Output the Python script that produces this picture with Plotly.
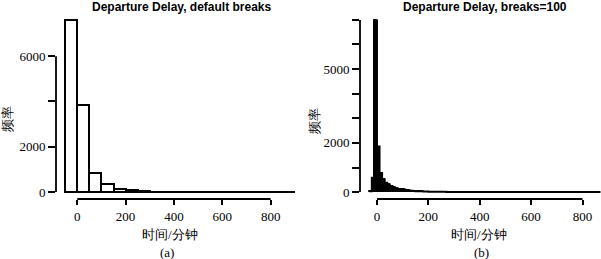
import plotly.graph_objects as go

# ---------------- data ----------------
breaks_a = list(range(-50, 901, 50))
counts_a = [7600, 3840, 860, 370, 150, 80, 45, 25, 18, 12, 10, 8, 6, 5, 4, 3, 3, 2, 2]

breaks_b = list(range(-30, 871, 10))
counts_b = [40, 580, 6980,
            1850, 780, 520, 380, 310,
            250, 200, 160, 130, 120,
            110, 80, 70, 60, 50,
            40, 35, 30, 25, 20,
            18, 16, 15, 16, 15,
            11, 10, 9, 8, 7,
            6, 5, 5, 5, 4,
            4, 4, 4, 3, 3,
            3, 3, 2, 2, 2,
            2, 2, 2, 2, 2,
            2, 2, 2, 1, 1,
            1, 1, 2, 1, 1,
            1, 1, 1, 1, 1,
            1, 1, 0, 1, 1,
            1, 0, 1, 0, 1,
            0, 1, 1, 0, 1,
            1, 0, 0, 1, 0,
            1, 1]

xticks = [0, 200, 400, 600, 800]
yticks_a = [0, 2000, 4000, 6000]
ytext_a = ["0", "2000", "", "6000"]
yticks_b = [0, 1000, 2000, 3000, 4000, 5000, 6000, 7000]
ytext_b = ["0", "", "2000", "", "", "5000", "", ""]

titles = ["Departure Delay, default breaks", "Departure Delay, breaks=100"]
xlabel = "时间/分钟"
ylabel = "频率"
panel_tags = ["(a)", "(b)"]

# ---------------- figure ----------------
W, H = 601, 259
def px(x):
    return x / W
def py(y):
    return 1 - y / H

def centers(br):
    return [(br[i] + br[i + 1]) / 2 for i in range(len(br) - 1)]
def widths(br):
    return [br[i + 1] - br[i] for i in range(len(br) - 1)]

fig = go.Figure()
fig.add_trace(go.Bar(x=centers(breaks_a), y=counts_a, width=widths(breaks_a),
                     marker=dict(color="white", line=dict(color="black", width=2)),
                     xaxis="x", yaxis="y", showlegend=False))
fig.add_trace(go.Bar(x=centers(breaks_b), y=counts_b, width=widths(breaks_b),
                     marker=dict(color="black", line=dict(color="black", width=1)),
                     xaxis="x2", yaxis="y2", showlegend=False))
# outline of the 100-break histogram (rect borders, visible even for tiny counts)
fig.add_trace(go.Scatter(x=breaks_b, y=counts_b + [counts_b[-1]], mode="lines",
                         line=dict(color="black", width=2, shape="hv"),
                         xaxis="x2", yaxis="y2", showlegend=False, hoverinfo="skip"))

serif = "Liberation Serif"
tickfont = dict(family=serif, size=13, color="black")
ydom = [py(199), py(13)]

common_x = dict(showgrid=False, zeroline=False, showline=False, ticks="outside",
                ticklen=5, tickwidth=1.6, tickcolor="black", tickfont=tickfont,
                tickvals=xticks, ticktext=[str(v) for v in xticks])
common_y = dict(showgrid=False, zeroline=False, showline=False, ticks="outside",
                ticklen=7, tickwidth=1.6, tickcolor="black", tickfont=tickfont)

fig.update_layout(
    width=W, height=H, margin=dict(l=0, r=0, t=0, b=0),
    paper_bgcolor="white", plot_bgcolor="white", bargap=0,
    xaxis=dict(domain=[px(56), px(304)], range=[-88, 938], anchor="y", **common_x),
    yaxis=dict(domain=ydom, range=[-304, 7904], anchor="x",
               tickvals=yticks_a, ticktext=ytext_a, **common_y),
    xaxis2=dict(domain=[px(360), 1.0], range=[-66, 872], anchor="y2", **common_x),
    yaxis2=dict(domain=ydom, range=[-280, 7280], anchor="x2",
                tickvals=yticks_b, ticktext=ytext_b, **common_y),
)

# R-style axis lines spanning first to last tick
shapes = []
for xa, ya, yt in [("x", "y", yticks_a), ("x2", "y2", yticks_b)]:
    shapes.append(dict(type="line", xref=xa, yref=ya + " domain",
                       x0=xticks[0], x1=xticks[-1], y0=0, y1=0,
                       line=dict(color="black", width=1.8)))
    shapes.append(dict(type="line", xref=xa + " domain", yref=ya,
                       x0=0, x1=0, y0=yt[0], y1=yt[-1],
                       line=dict(color="black", width=1.8)))
fig.update_layout(shapes=shapes)

ann = []
title_cx = [182, 485.5]
xlab_cx = [169.5, 479]
tag_cx = [167, 481.5]
ylab_cx = [7, 314]
ylab_cy = [118.5, 120.5]
for i in range(2):
    ann.append(dict(text="<b>%s</b>" % titles[i], x=px(title_cx[i]), y=py(7),
                    xref="paper", yref="paper", showarrow=False,
                    font=dict(family="Liberation Sans", size=12, color="black"),
                    xanchor="center", yanchor="middle"))
    ann.append(dict(text=xlabel, x=px(xlab_cx[i]), y=py(234), xref="paper", yref="paper",
                    showarrow=False, font=dict(family=serif, size=13, color="black"),
                    xanchor="center", yanchor="middle"))
    ann.append(dict(text=panel_tags[i], x=px(tag_cx[i]), y=py(252.5), xref="paper", yref="paper",
                    showarrow=False, font=dict(family=serif, size=13, color="black"),
                    xanchor="center", yanchor="middle"))
    ann.append(dict(text=ylabel, x=px(ylab_cx[i]), y=py(ylab_cy[i]), xref="paper", yref="paper",
                    showarrow=False, textangle=-90, font=dict(family=serif, size=13, color="black"),
                    xanchor="center", yanchor="middle"))
fig.update_layout(annotations=ann)

fig.write_html("out.html")
